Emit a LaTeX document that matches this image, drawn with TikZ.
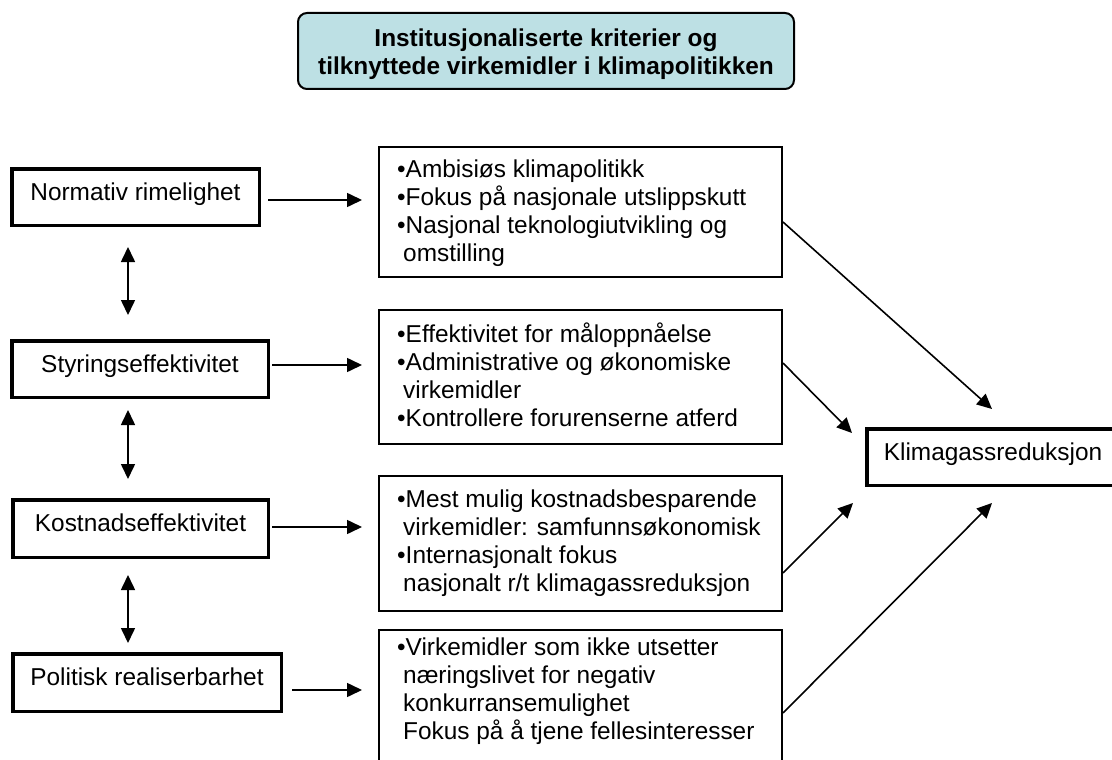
\documentclass[tikz,border=0pt]{standalone}
\usepackage{fontspec}
\setmainfont{Liberation Sans}
\usetikzlibrary{arrows.meta,calc}
\definecolor{titlefill}{RGB}{189,224,228}
\newcommand\bodyfs{\fontsize{24.4}{28.3}\selectfont}
\newcommand\titlefs{\fontsize{24.4}{28}\selectfont\bfseries}
\tikzset{
  crit/.style={draw, line width=3.5pt, font=\bodyfs, text height=17.6pt, text depth=11.6pt, inner sep=0pt},
  bbox/.style={draw, line width=2pt, minimum width=403pt, inner sep=0pt},
  btext/.style={font=\bodyfs, align=left, inner sep=0pt, anchor=west},
  tip/.style={Triangle[length=15pt,width=14pt]},
  arr/.style={line width=1.6pt, -{Triangle[length=15pt,width=14pt]}},
  dbl/.style={line width=1.6pt, {Triangle[length=15pt,width=14pt]}-{Triangle[length=15pt,width=14pt]}},
}
\begin{document}
\begin{tikzpicture}[x=1pt,y=-1pt]
\useasboundingbox (0,0) rectangle (1112,760);
\clip (0,0) rectangle (1112,760);

% title
\node[draw, line width=2pt, rounded corners=9pt, fill=titlefill, minimum width=496pt, minimum height=76pt, inner sep=0pt] (T) at (546,51) {};
\node[font=\titlefs, align=center, inner sep=0pt] (Tt) at (546,55) {\strut Institusjonaliserte kriterier og\\tilknyttede virkemidler i klimapolitikken\strut};

% left criteria
\node[crit, minimum width=247.5pt, minimum height=56.5pt] (N) at (135.5,197) {Normativ rimelighet};
\node[crit, minimum width=256.5pt, minimum height=56.5pt] (S) at (140,369) {Styringseffektivitet};
\node[crit, minimum width=255.5pt, minimum height=57.5pt] (K) at (140.5,528.5) {Kostnadseffektivitet};
\node[crit, minimum width=268.5pt, minimum height=57.5pt] (P) at (147,682.5) {Politisk realiserbarhet};

% right boxes
\node[bbox, minimum height=130pt] (B1) at (580.5,212) {};
\node[bbox, minimum height=134pt] (B2) at (580.5,377) {};
\node[bbox, minimum height=135pt] (B3) at (580.5,543.5) {};
\node[bbox, minimum height=140pt] (B4) at (580.5,700) {};

\node[btext] (B1t) at (397,213.8) {\strut •Ambisiøs klimapolitikk\\•Fokus på nasjonale utslippskutt\\•Nasjonal teknologiutvikling og\\\hspace*{6pt}omstilling\strut};
\node[btext] (B2t) at (397,378.8) {\strut •Effektivitet for måloppnåelse\\•Administrative og økonomiske\\\hspace*{6pt}virkemidler\\•Kontrollere forurenserne atferd\strut};
\node[btext] (B3t) at (397,543.8) {\strut •Mest mulig kostnadsbesparende\\\hspace*{6pt}virkemidler: samfunnsøkonomisk\\•Internasjonalt fokus\\\hspace*{6pt}nasjonalt r/t klimagassreduksjon\strut};
\node[btext] (B4t) at (397,691.8) {\strut •Virkemidler som ikke utsetter\\\hspace*{6pt}næringslivet for negativ\\\hspace*{6pt}konkurransemulighet\\\hspace*{6pt}Fokus på å tjene fellesinteresser\strut};

% result
\node[crit, minimum width=252.5pt, minimum height=56.5pt] (KG) at (993,457) {Klimagassreduksjon};

% horizontal arrows
\draw[arr] ($(N.east)+(7,3)$) -- ($(N.east -| B1.west)+(-16,3)$);
\draw[arr] ($(S.east)+(2,-4)$) -- ($(S.east -| B2.west)+(-16,-4)$);
\draw[arr] ($(K.east)+(2,-1.5)$) -- ($(K.east -| B3.west)+(-16,-1.5)$);
\draw[arr] ($(P.east)+(9,7.5)$) -- ($(P.east -| B4.west)+(-16,7.5)$);

% vertical double arrows
\draw[dbl] ($(N.south)+(-7.5,20)$) -- ($(S.north)+(-12,-24)$);
\draw[dbl] ($(S.south)+(-12,11)$) -- ($(K.north)+(-12.5,-19)$);
\draw[dbl] ($(K.south)+(-12.5,16)$) -- ($(P.north)+(-19,-9)$);

% arrows to result
\coordinate (t1) at (992,409);
\coordinate (t2) at (852,433);
\coordinate (t3) at (853,503);
\coordinate (t4) at (992,503);
\draw[arr] ($(B1.east)+(0,10)$) -- (t1);
\draw[arr] ($(B2.east)+(0,-14)$) -- (t2);
\draw[arr] ($(B3.east)+(0,29.5)$) -- (t3);
\draw[arr] ($(B4.east)+(0,13)$) -- (t4);
\end{tikzpicture}
\end{document}
